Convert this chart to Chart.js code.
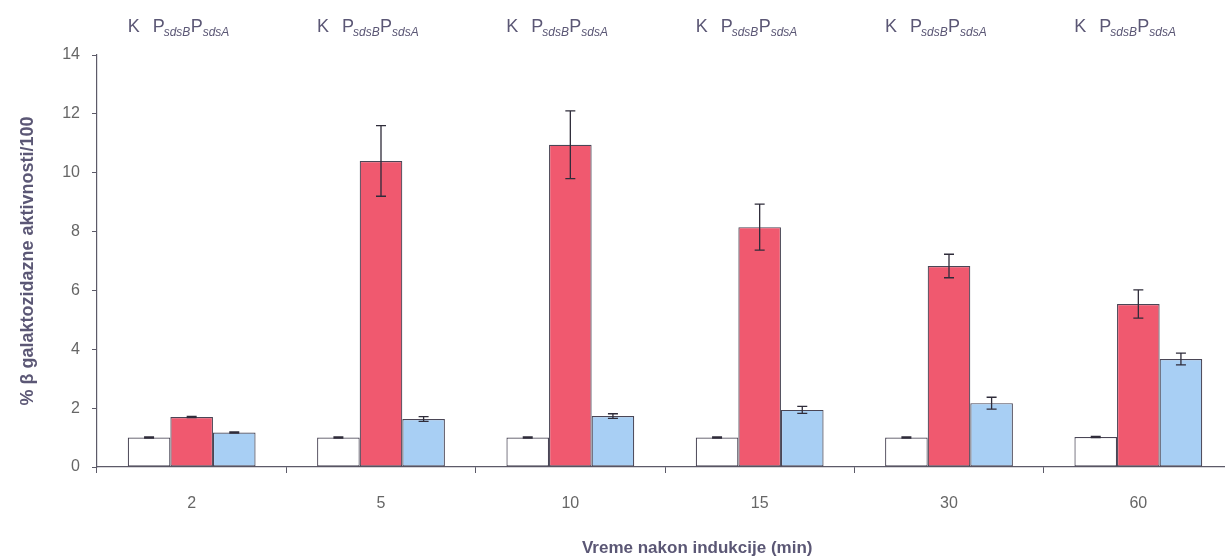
<!DOCTYPE html>
<html>
<head>
<meta charset="utf-8">
<script src="https://cdn.jsdelivr.net/npm/chart.js@4.4.1/dist/chart.umd.min.js"></script>
<style>
  html, body { margin: 0; padding: 0; background: #fff; overflow: hidden; }
  #wrap { width: 1240px; height: 558px; position: relative; }
</style>
</head>
<body>
<div id="wrap"><canvas id="chart"></canvas></div>
<script>
// values
const labels = ['2', '5', '10', '15', '30', '60'];
const kontrola = [1.0, 1.0, 1.0, 1.0, 1.0, 1.02];
const sdsB = [1.7, 10.4, 10.95, 8.15, 6.83, 5.54];
const sdsA = [1.17, 1.63, 1.73, 1.94, 2.17, 3.67];
const kontrolaErr = [0.02, 0.02, 0.02, 0.02, 0.02, 0.02];
const sdsBErr = [0.02, 1.2, 1.15, 0.78, 0.4, 0.48];
const sdsAErr = [0.02, 0.08, 0.08, 0.12, 0.2, 0.2];

const axisColor = '#5c5a68';
const textColor = '#5b5775';
const fontFamily = '"Liberation Sans", Arial, sans-serif';

const errorBars = {
    id: 'errorBars',
    afterDatasetsDraw(chart) {
        const ctx = chart.ctx;
        const y = chart.scales.y;
        ctx.save();
        ctx.strokeStyle = '#2f2c3a';
        ctx.lineWidth = 1.3;
        chart.data.datasets.forEach((ds, di) => {
            const meta = chart.getDatasetMeta(di);
            meta.data.forEach((bar, i) => {
                const v = ds.data[i], e = ds.errors[i];
                const top = y.getPixelForValue(v + e);
                const bot = y.getPixelForValue(v - e);
                ctx.beginPath();
                ctx.moveTo(bar.x, top); ctx.lineTo(bar.x, bot);
                ctx.moveTo(bar.x - 5, top); ctx.lineTo(bar.x + 5, top);
                ctx.moveTo(bar.x - 5, bot); ctx.lineTo(bar.x + 5, bot);
                ctx.stroke();
            });
        });
        ctx.restore();
    }
};

// "K PsdsB PsdsA" above every group, plus the x axis title
const groupHeaders = {
    id: 'groupHeaders',
    afterDraw(chart) {
        const ctx = chart.ctx;
        const x = chart.scales.x;
        ctx.save();
        ctx.fillStyle = textColor;
        ctx.textAlign = 'left';
        ctx.textBaseline = 'alphabetic';
        labels.forEach((l, i) => {
            const cx = x.getPixelForValue(i);
            ctx.font = '18px ' + fontFamily;
            ctx.fillText('K', cx - 64, 32);
            ctx.fillText('P', cx - 39, 32);
            ctx.fillText('P', cx - 1, 32);
            ctx.font = 'italic 12px ' + fontFamily;
            ctx.fillText('sdsB', cx - 28, 36);
            ctx.fillText('sdsA', cx + 11, 36);
        });
        ctx.textAlign = 'center';
        ctx.textBaseline = 'middle';
        ctx.font = 'bold 17px ' + fontFamily;
        ctx.fillText('Vreme nakon indukcije (min)', x.getPixelForValue(2.67), 548);
        ctx.restore();
    }
};

const barStyle = { borderColor: '#4a4656', borderWidth: 1.2, borderSkipped: false };

new Chart(document.getElementById('chart'), {
    type: 'bar',
    data: {
        labels: labels,
        datasets: [
            { label: 'K', data: kontrola, errors: kontrolaErr, backgroundColor: '#ffffff', ...barStyle },
            { label: 'PsdsB', data: sdsB, errors: sdsBErr, backgroundColor: '#f0596f', ...barStyle },
            { label: 'PsdsA', data: sdsA, errors: sdsAErr, backgroundColor: '#a8cff4', ...barStyle }
        ]
    },
    options: {
        responsive: true,
        maintainAspectRatio: false,
        animation: false,
        datasets: { bar: { categoryPercentage: 0.675, barPercentage: 1.0 } },
        layout: { padding: { top: 55, right: 7, left: 0, bottom: 0 } },
        plugins: { legend: { display: false }, tooltip: { enabled: false } },
        scales: {
            x: {
                afterFit(s) { s.height = 91; },
                grid: { drawOnChartArea: false, drawTicks: true, tickLength: 6, color: axisColor, offset: true },
                border: { color: axisColor, width: 1.2 },
                ticks: { color: '#666', padding: 21, font: { family: fontFamily, size: 16 } }
            },
            y: {
                min: 0, max: 14,
                afterFit(s) { s.width = 97; },
                grid: { drawOnChartArea: false, drawTicks: true, tickLength: 5, color: axisColor },
                border: { color: axisColor, width: 1.2 },
                ticks: { stepSize: 2, color: '#666', padding: 12, font: { family: fontFamily, size: 16 } },
                title: {
                    display: true,
                    text: '% β galaktozidazne aktivnosti/100',
                    color: textColor,
                    padding: { top: 17, bottom: 0 },
                    font: { family: fontFamily, size: 18, weight: 'bold' }
                }
            }
        }
    },
    plugins: [errorBars, groupHeaders]
});
</script>
</body>
</html>
